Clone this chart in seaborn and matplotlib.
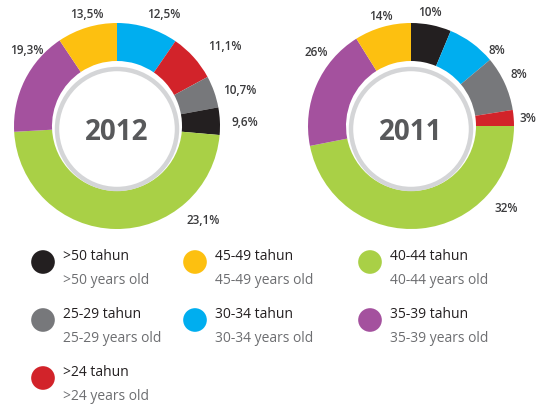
import matplotlib
matplotlib.use("Agg")
import matplotlib.pyplot as plt
import seaborn as sns
import pandas as pd

# ---------------- data ----------------
groups = [">50", "45-49", "40-44", "25-29", "30-34", "35-39", ">24"]
tahun_labels = [">50 tahun", "45-49 tahun", "40-44 tahun", "25-29 tahun",
                "30-34 tahun", "35-39 tahun", ">24 tahun"]
years_labels = [">50 years old", "45-49 years old", "40-44 years old",
                "25-29 years old", "30-34 years old", "35-39 years old",
                ">24 years old"]
group_colors = ["#231f20", "#fdc010", "#a9d046", "#77787b",
                "#00aeef", "#a4519e", "#d2232a"]

# wedge order clockwise from 12 o'clock, drawn shares
order_2012 = ["30-34", ">24", "25-29", ">50", "40-44", "35-39", "45-49"]
share_2012 = [9.6, 7.5, 5.0, 4.3, 47.7, 16.5, 9.4]
text_2012 = ["12,5%", "11,1%", "10,7%", "9,6%", "23,1%", "19,3%", "13,5%"]

order_2011 = [">50", "30-34", "25-29", ">24", "40-44", "35-39", "45-49"]
share_2011 = [6.3, 7.6, 8.6, 2.5, 46.9, 19.2, 8.9]
text_2011 = ["10%", "8%", "8%", "3%", "32%", "26%", "14%"]

years = ["2012", "2011"]

# ---------------- layout (pixels, y from top) ----------------
W, H = 537, 404
centers = [(117, 126), (411, 126)]
R_OUT, RING_W = 103, 38
label_pos_2012 = [(164, 14), (225, 46), (240, 90), (245, 123),
                  (203, 220), (27, 50), (87, 14)]
label_pos_2011 = [(430, 13), (497, 50), (519, 74), (528, 118),
                  (506, 208), (316, 53), (381, 17)]

sns.set_theme(style="white")
plt.rcParams["font.family"] = ["Open Sans", "DejaVu Sans"]

fig = plt.figure(figsize=(W / 100, H / 100), dpi=100)
ax = fig.add_axes([0, 0, 1, 1])

color_of = dict(zip(groups, group_colors))

def yy(y):
    return H - y

for (cx, cy), order, share, texts, lpos, yr in zip(
        centers, [order_2012, order_2011], [share_2012, share_2011],
        [text_2012, text_2011], [label_pos_2012, label_pos_2011], years):
    ax.pie(share, colors=[color_of[g] for g in order], startangle=90,
           counterclock=False, center=(cx, yy(cy)), radius=R_OUT,
           wedgeprops=dict(width=RING_W, linewidth=0), normalize=True)
    ring = plt.Circle((cx, yy(cy + 3)), 60, facecolor="white",
                      edgecolor="#d4d5d7", linewidth=3.2, zorder=3)
    ax.add_patch(ring)
    ax.text(cx, yy(cy + 7), yr, ha="center", va="center", fontsize=20,
            fontweight="bold", color="#58595b", zorder=4)
    for t, (lx, ly) in zip(texts, lpos):
        ax.text(lx, yy(ly), t, ha="center", va="center", fontsize=8.5,
                fontweight="semibold", color="#3a3a3c", zorder=4)

# ---------------- legend ----------------
col_x = [43, 195, 370]
row_y = [262, 320, 378]
leg = pd.DataFrame({
    "group": groups,
    "x": [col_x[i % 3] for i in range(len(groups))],
    "y": [yy(row_y[i // 3]) for i in range(len(groups))],
})
sns.scatterplot(data=leg, x="x", y="y", hue="group", hue_order=groups,
                palette=group_colors, s=290, edgecolor="none",
                legend=False, ax=ax, zorder=5)
for i, g in enumerate(groups):
    x = leg["x"][i] + 20
    y = leg["y"][i]
    ax.text(x, y + 5, tahun_labels[i], ha="left", va="center",
            fontsize=10, color="#231f20")
    ax.text(x, y - 18, years_labels[i], ha="left", va="center",
            fontsize=10, color="#6d6e71")

ax.set_xlim(0, W)
ax.set_ylim(0, H)
ax.set_aspect("equal", adjustable="datalim")
ax.set_xlim(0, W)
ax.set_ylim(0, H)
ax.axis("off")
fig.savefig("out.png", dpi=100, facecolor="white")
